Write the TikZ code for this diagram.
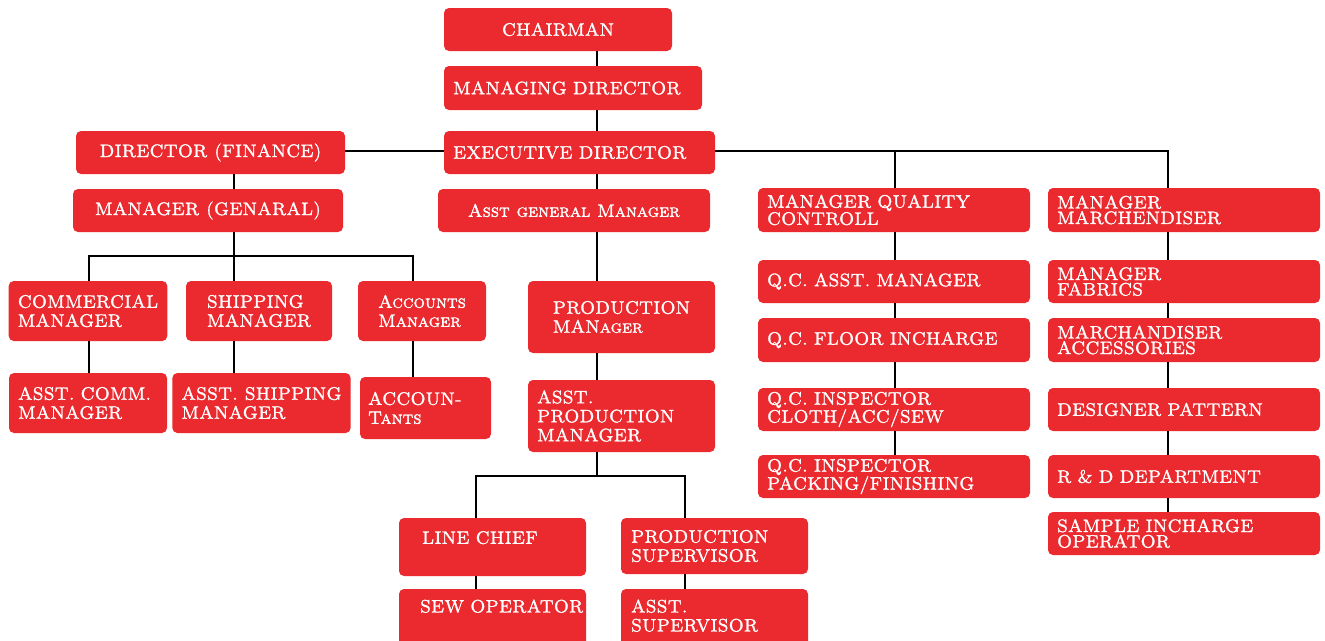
\documentclass[tikz,border=0pt]{standalone}
\usepackage{fontspec}
\usepackage{tikz}
\usetikzlibrary{calc}
\newfontfamily\chartfont{lmromancaps10-regular.otf}[FakeBold=1.6]
\definecolor{chartred}{RGB}{234,42,46}
\tikzset{
  wire/.style={black,line width=1.5pt},
  rolebox/.style={fill=chartred,text=white,rounded corners=5pt,inner xsep=9pt,inner ysep=3pt,
                  align=left,font=\chartfont\fontsize{18}{19}\selectfont},
  tight/.style={rolebox,font=\chartfont\fontsize{18}{15.5}\selectfont},
}
\begin{document}
\begin{tikzpicture}[x=1pt,y=-1pt]
  \useasboundingbox (0,0) rectangle (1325,640);

  \node[rolebox,minimum width=228pt,minimum height=43pt] (chair) at (558,29.5) {CHAIRMAN};
  \node[rolebox,text width=240pt,minimum height=44pt] (md) at (573,88) {MANAGING DIRECTOR};
  \node[rolebox,text width=253pt,minimum height=43pt] (ed) at (579.5,152.5) {EXECUTIVE DIRECTOR};
  \node[rolebox,minimum width=269pt,minimum height=43pt] (df) at (210.5,152.5) {DIRECTOR (FINANCE)};
  \node[rolebox,minimum width=270pt,minimum height=43pt] (mg) at (208,210.5) {MANAGER (GENARAL)};
  \node[rolebox,minimum width=272pt,minimum height=43pt] (agm) at (574,210.5) {Asst general Manager};

  \node[rolebox,minimum width=158pt,minimum height=60pt] (cm) at (88,311) {COMMERCIAL\\MANAGER};
  \node[rolebox,minimum width=146pt,minimum height=60pt] (sm) at (259,311) {SHIPPING\\MANAGER};
  \node[rolebox,minimum width=128pt,minimum height=60pt] (am) at (422,311) {Accounts\\Manager};
  \node[rolebox,text width=140pt,minimum height=60pt] (acm) at (88,403) {ASST. COMM.\\MANAGER};
  \node[rolebox,minimum width=165pt,minimum height=60pt] (asm) at (261.5,403) {ASST. SHIPPING\\MANAGER};
  \node[rolebox,inner xsep=8pt,text width=115pt,minimum height=62pt] (acct) at (425.5,408) {ACCOUN-\\Tants};

  \node[rolebox,minimum width=187pt,minimum height=72pt] (pm) at (621.5,317) {PRODUCTION\\MANager};
  \node[rolebox,text width=169pt,minimum height=72pt] (apm) at (621.5,416) {ASST.\\PRODUCTION\\MANAGER};
  \node[rolebox,text width=169pt,minimum height=58pt] (lc) at (492.5,547) {\hspace*{14pt}LINE CHIEF\\\mbox{}};
  \node[rolebox,inner xsep=10pt,text width=167pt,minimum height=56pt] (ps) at (714.5,546) {PRODUCTION\\SUPERVISOR};
  \node[rolebox,text width=169pt,minimum height=72pt] (sew) at (492.5,625) {\hspace*{12pt}\mbox{SEW OPERATOR}\\\mbox{}\\\mbox{}};
  \node[rolebox,inner xsep=10pt,text width=167pt,minimum height=72pt] (as) at (714.5,625) {ASST.\\SUPERVISOR\\\mbox{}};

  \node[tight,text width=254pt,minimum height=44pt] (mqc) at (894,210) {MANAGER QUALITY\\CONTROLL};
  \node[tight,text width=254pt,minimum height=43pt] (qc1) at (894,281.5) {Q.C. ASST. MANAGER};
  \node[tight,text width=254pt,minimum height=44pt] (qc2) at (894,340) {Q.C. FLOOR INCHARGE};
  \node[tight,text width=254pt,minimum height=43pt] (qc3) at (894,409.5) {Q.C. INSPECTOR\\CLOTH/ACC/SEW};
  \node[tight,text width=254pt,minimum height=43pt] (qc4) at (894,476.5) {Q.C. INSPECTOR\\PACKING/FINISHING};

  \node[tight,text width=254pt,minimum height=44pt] (mm) at (1184,210) {MANAGER\\MARCHENDISER};
  \node[tight,text width=254pt,minimum height=43pt] (mf) at (1184,281.5) {MANAGER\\FABRICS};
  \node[tight,text width=254pt,minimum height=44pt] (mac) at (1184,340) {MARCHANDISER\\ACCESSORIES};
  \node[tight,text width=254pt,minimum height=43pt] (dp) at (1184,409.5) {DESIGNER PATTERN};
  \node[tight,text width=254pt,minimum height=43pt] (rd) at (1184,476.5) {R \& D DEPARTMENT};
  \node[tight,text width=254pt,minimum height=43pt] (si) at (1184,533.5) {SAMPLE INCHARGE\\OPERATOR};

  \coordinate (spine) at (597,0);
  \coordinate (qcx) at (895,151);
  \coordinate (mx) at (1168,151);
  \coordinate (cmx) at (89,256);
  \coordinate (smx) at (234,256);
  \coordinate (amx) at (413,256);
  \coordinate (lcx) at (476,476);
  \coordinate (psx) at (685,476);

  \draw[wire] (chair.south -| spine) -- (md.north -| spine);
  \draw[wire] (md.south -| spine) -- (ed.north -| spine);
  \draw[wire] (ed.south -| spine) -- (agm.north -| spine);
  \draw[wire] (agm.south -| spine) -- (pm.north -| spine);
  \draw[wire] (pm.south -| spine) -- (apm.north -| spine);
  \draw[wire] (df.east |- qcx) -- (ed.west |- qcx);
  \draw[wire] (ed.east |- qcx) -- (mx) -- (mm.north -| mx);
  \draw[wire] (qcx) -- (mqc.north -| qcx);

  \draw[wire] (df.south -| smx) -- (mg.north -| smx);
  \draw[wire] (mg.south -| smx) -- (sm.north -| smx);
  \draw[wire] (cm.north -| cmx) -- (cmx) -- (amx) -- (am.north -| amx);
  \draw[wire] (cm.south -| cmx) -- (acm.north -| cmx);
  \draw[wire] (sm.south -| smx) -- (asm.north -| smx);
  \draw[wire] (am.south -| amx) -- (acct.north -| amx);

  \draw[wire] (apm.south -| spine) -- (spine |- lcx);
  \draw[wire] (lc.north -| lcx) -- (lcx) -- (psx) -- (ps.north -| psx);
  \draw[wire] (lc.south -| lcx) -- (sew.north -| lcx);
  \draw[wire] (ps.south -| psx) -- (as.north -| psx);

  \foreach \a/\b in {mqc/qc1,qc1/qc2,qc2/qc3,qc3/qc4}
    \draw[wire] (\a.south -| qcx) -- (\b.north -| qcx);
  \foreach \a/\b in {mm/mf,mf/mac,mac/dp,dp/rd,rd/si}
    \draw[wire] (\a.south -| mx) -- (\b.north -| mx);
\end{tikzpicture}
\end{document}
